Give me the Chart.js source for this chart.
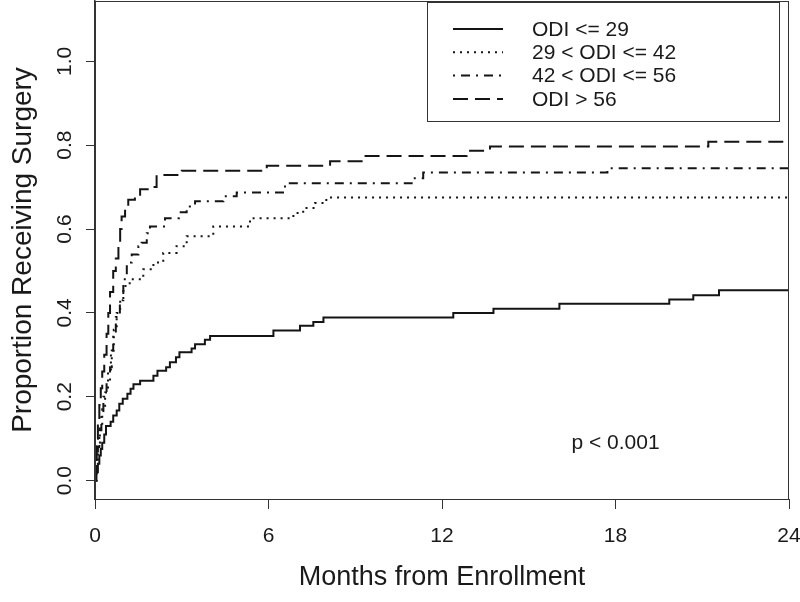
<!DOCTYPE html>
<html>
<head>
<meta charset="utf-8">
<script src="https://cdn.jsdelivr.net/npm/chart.js@4.4.1/dist/chart.umd.min.js"></script>
<style>
    body { margin: 0; background: #fff; }
    #wrap { width: 800px; height: 602px; }
</style>
</head>
<body>
<div id="wrap"><canvas id="kmChart" width="800" height="602"></canvas></div>
<script>
// group labels (legend order)
const groupLabels = ['ODI <= 29', '29 < ODI <= 42', '42 < ODI <= 56', 'ODI > 56'];

// step points: months, proportion receiving surgery
const monthsLow = [0, 0.05, 0.1, 0.15, 0.2, 0.25, 0.32, 0.38, 0.54, 0.63, 0.75, 0.84, 0.96, 1.12, 1.23, 1.33, 1.56, 2.02, 2.16, 2.46, 2.59, 2.8, 2.92, 3.34, 3.46, 3.8, 3.98, 6.17, 7.09, 7.55, 7.9, 12.39, 13.78, 16.06, 19.86, 20.69, 21.58, 24];
const propLow   = [0, 0.02, 0.04, 0.06, 0.075, 0.09, 0.11, 0.13, 0.14, 0.155, 0.167, 0.183, 0.195, 0.207, 0.219, 0.23, 0.238, 0.25, 0.262, 0.27, 0.282, 0.294, 0.306, 0.315, 0.325, 0.336, 0.345, 0.358, 0.369, 0.378, 0.389, 0.4, 0.41, 0.422, 0.432, 0.442, 0.454, 0.454];

const monthsMid1 = [0, 0.05, 0.1, 0.17, 0.25, 0.35, 0.45, 0.55, 0.65, 0.75, 0.87, 0.98, 1.2, 1.67, 2.02, 2.36, 2.82, 3.17, 4.09, 5.36, 6.86, 7.2, 7.61, 8.0, 24];
const propMid1   = [0, 0.05, 0.09, 0.13, 0.17, 0.21, 0.26, 0.31, 0.36, 0.4, 0.43, 0.464, 0.48, 0.504, 0.52, 0.543, 0.559, 0.583, 0.606, 0.626, 0.638, 0.65, 0.662, 0.675, 0.675];

const monthsMid2 = [0, 0.05, 0.1, 0.15, 0.22, 0.29, 0.4, 0.52, 0.58, 0.63, 0.72, 0.86, 0.98, 1.1, 1.27, 1.5, 1.61, 1.79, 1.9, 2.42, 2.9, 3.17, 3.46, 4.44, 4.9, 6.57, 10.95, 11.35, 17.72, 24];
const propMid2   = [0, 0.04, 0.08, 0.12, 0.16, 0.2, 0.23, 0.27, 0.31, 0.35, 0.39, 0.43, 0.48, 0.52, 0.539, 0.559, 0.567, 0.59, 0.606, 0.626, 0.64, 0.654, 0.666, 0.678, 0.687, 0.709, 0.721, 0.735, 0.745, 0.745];

const monthsHigh = [0, 0.03, 0.06, 0.1, 0.15, 0.2, 0.25, 0.32, 0.4, 0.46, 0.52, 0.63, 0.72, 0.81, 0.87, 0.92, 1.04, 1.15, 1.38, 1.56, 1.9, 2.13, 3.0, 5.94, 8.13, 9.22, 12.85, 13.66, 21.21, 24];
const propHigh   = [0, 0.05, 0.1, 0.14, 0.18, 0.22, 0.26, 0.3, 0.35, 0.4, 0.45, 0.5, 0.53, 0.56, 0.6, 0.63, 0.655, 0.67, 0.682, 0.695, 0.7, 0.729, 0.739, 0.751, 0.762, 0.774, 0.787, 0.797, 0.808, 0.808];

// axis ticks
const xTicks = [0, 6, 12, 18, 24];
const yTicks = [0, 0.2, 0.4, 0.6, 0.8, 1.0];

const lineColor = '#141414';
const fontFamily = '"Liberation Sans", Arial, Helvetica, sans-serif';

function toPoints(xs, ys) {
    return xs.map((x, i) => ({ x: x, y: ys[i] }));
}

function makeSet(label, xs, ys, dash) {
    return {
        label: label,
        data: toPoints(xs, ys),
        borderColor: lineColor,
        borderWidth: 2,
        borderDash: dash,
        pointRadius: 0,
        fill: false,
        stepped: true,
        tension: 0
    };
}

// R-style box round the plot area
const boxPlugin = {
    id: 'plotBox',
    afterDraw(chart) {
        const { ctx, chartArea: a } = chart;
        ctx.save();
        ctx.strokeStyle = '#333';
        ctx.lineWidth = 1;
        ctx.strokeRect(a.left + 0.5, a.top + 0.5, a.right - a.left - 1, a.bottom - a.top);
        ctx.restore();
    }
};

// legend box in the top right corner
const legendBoxPlugin = {
    id: 'legendBox',
    afterDraw(chart) {
        const { ctx, chartArea: a } = chart;
        const left = a.left + 332, top = a.top + 1, right = a.right - 10, bottom = a.top + 120;
        ctx.save();
        ctx.strokeStyle = '#333';
        ctx.lineWidth = 1;
        ctx.strokeRect(left + 0.5, top + 0.5, right - left, bottom - top);
        ctx.font = '21px ' + fontFamily;
        ctx.fillStyle = '#1a1a1a';
        ctx.textBaseline = 'middle';
        chart.data.datasets.forEach((ds, i) => {
            const y = top + 27 + i * 23.3;
            ctx.beginPath();
            ctx.setLineDash(ds.borderDash || []);
            ctx.strokeStyle = lineColor;
            ctx.lineWidth = 2;
            ctx.moveTo(left + 26, y);
            ctx.lineTo(left + 76, y);
            ctx.stroke();
            ctx.setLineDash([]);
            ctx.fillText(ds.label, left + 105, y + 1);
        });
        ctx.restore();
    }
};

// p-value note placed in data coordinates
const noteText = 'p < 0.001';
const notePos = { x: 18, y: 0.09 };
const notePlugin = {
    id: 'pNote',
    afterDraw(chart) {
        const { ctx, scales } = chart;
        ctx.save();
        ctx.font = '21px ' + fontFamily;
        ctx.fillStyle = '#1a1a1a';
        ctx.textAlign = 'center';
        ctx.textBaseline = 'middle';
        ctx.fillText(noteText, scales.x.getPixelForValue(notePos.x), scales.y.getPixelForValue(notePos.y));
        ctx.restore();
    }
};

function noPadding(scale) {
    scale.paddingLeft = 0;
    scale.paddingRight = 0;
    scale.paddingTop = 0;
    scale.paddingBottom = 0;
}

const ctx = document.getElementById('kmChart').getContext('2d');
const kmChart = new Chart(ctx, {
    type: 'line',
    data: {
        datasets: [
            makeSet(groupLabels[0], monthsLow, propLow, []),
            makeSet(groupLabels[1], monthsMid1, propMid1, [2, 5]),
            makeSet(groupLabels[2], monthsMid2, propMid2, [2, 6, 9, 6]),
            makeSet(groupLabels[3], monthsHigh, propHigh, [15, 7])
        ]
    },
    options: {
        responsive: false,
        animation: false,
        layout: { padding: { top: 1, right: 11, left: 0, bottom: 0 } },
        plugins: {
            legend: { display: false },
            tooltip: { enabled: false }
        },
        scales: {
            x: {
                type: 'linear',
                min: 0,
                max: 24,
                afterBuildTicks: s => { s.ticks = xTicks.map(v => ({ value: v })); },
                afterFit: s => { s.height = 103; noPadding(s); },
                ticks: {
                    color: '#1a1a1a',
                    padding: 15,
                    maxRotation: 0,
                    font: { family: fontFamily, size: 21 },
                    callback: v => String(v)
                },
                grid: { drawOnChartArea: false, drawTicks: true, tickLength: 10, color: '#333' },
                border: { display: true, color: '#333', width: 1 },
                title: {
                    display: true,
                    text: 'Months from Enrollment',
                    color: '#1a1a1a',
                    font: { family: fontFamily, size: 27 },
                    padding: { top: 0, bottom: 8 }
                }
            },
            y: {
                type: 'linear',
                min: -0.044,
                max: 1.144,
                afterBuildTicks: s => { s.ticks = yTicks.map(v => ({ value: v })); },
                afterFit: s => { s.width = 95; noPadding(s); },
                ticks: {
                    color: '#1a1a1a',
                    padding: 6,
                    minRotation: 90,
                    maxRotation: 90,
                    crossAlign: 'center',
                    font: { family: fontFamily, size: 21 },
                    callback: v => v.toFixed(1)
                },
                grid: { drawOnChartArea: false, drawTicks: true, tickLength: 9, color: '#333' },
                border: { display: true, color: '#333', width: 1.5 },
                title: {
                    display: true,
                    text: 'Proportion Receiving Surgery',
                    color: '#1a1a1a',
                    font: { family: fontFamily, size: 28 },
                    padding: { top: 6, bottom: 0 }
                }
            }
        }
    },
    plugins: [boxPlugin, legendBoxPlugin, notePlugin]
});
</script>
</body>
</html>
